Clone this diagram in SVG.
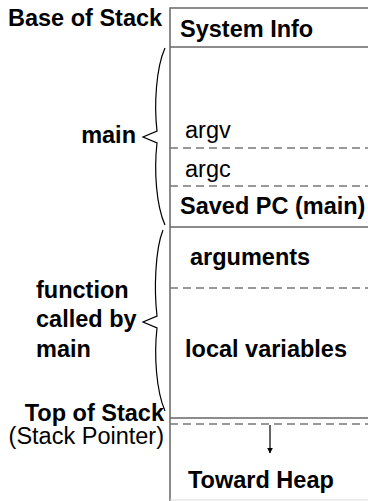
<svg xmlns="http://www.w3.org/2000/svg" width="368" height="501" viewBox="0 0 368 501">
<style>
text{font-family:"Liberation Sans",Arial,sans-serif;font-size:23.5px;fill:#000}
.b{font-weight:bold}
.r{text-anchor:end}
.solid{stroke:#666;stroke-width:1.5;fill:none}
.dash{stroke:#777;stroke-width:1.5;stroke-dasharray:8 5;fill:none}
.brace{stroke:#000;stroke-width:1.2;fill:none}
</style>
<defs>
<marker id="ah" viewBox="0 0 10 10" refX="9" refY="5" markerWidth="6" markerHeight="7" orient="auto" markerUnits="userSpaceOnUse">
<path d="M0,0 L10,5 L0,10 z" fill="#000"/>
</marker>
</defs>
<rect width="368" height="501" fill="#fff"/>
<g id="stack-frame">
<path class="solid" d="M170,501 V8 H368"/>
<line class="solid" x1="170" y1="47" x2="368" y2="47"/>
<line class="dash" x1="170" y1="148" x2="368" y2="148"/>
<line class="dash" x1="170" y1="186" x2="368" y2="186"/>
<line class="solid" x1="170" y1="227" x2="368" y2="227"/>
<line class="dash" x1="170" y1="288" x2="368" y2="288"/>
<line class="solid" x1="170" y1="418" x2="368" y2="418"/>
<line class="dash" x1="170" y1="424" x2="368" y2="424"/>
<line x1="170" y1="500" x2="368" y2="500" stroke="#ddd" stroke-width="1"/>
</g>
<g id="system-info"><text class="b" x="180" y="37">System Info</text></g>
<g id="argv"><text x="185" y="138">argv</text></g>
<g id="argc"><text x="185" y="177">argc</text></g>
<g id="saved-pc"><text class="b" x="180" y="214">Saved PC (main)</text></g>
<g id="arguments"><text class="b" x="190" y="265">arguments</text></g>
<g id="local-variables"><text class="b" x="185" y="357">local variables</text></g>
<g id="toward-heap"><text class="b" x="188" y="488">Toward Heap</text></g>
<g id="base-label"><text class="b" x="8" y="26">Base of Stack</text></g>
<g id="main-label"><text class="b r" x="136" y="143">main</text></g>
<g id="function-label">
<text class="b" x="36" y="298">function</text>
<text class="b" x="36" y="327">called by</text>
<text class="b" x="36" y="357">main</text>
</g>
<g id="top-label">
<text class="b r" x="164" y="421">Top of Stack</text>
<text class="r" x="164" y="444">(Stack Pointer)</text>
</g>
<g id="connectors">
<path class="brace" d="M165,48 C156,68 154,105 157,131 L143,137 L157,143 C154,170 156,205 165,225"/>
<path class="brace" d="M163,230 C155,250 154,290 157,316 L143,322 L157,328 C154,355 156,390 165,411"/>
<line x1="270" y1="425" x2="270" y2="453" stroke="#000" stroke-width="1.2" marker-end="url(#ah)"/>
</g>
</svg>
